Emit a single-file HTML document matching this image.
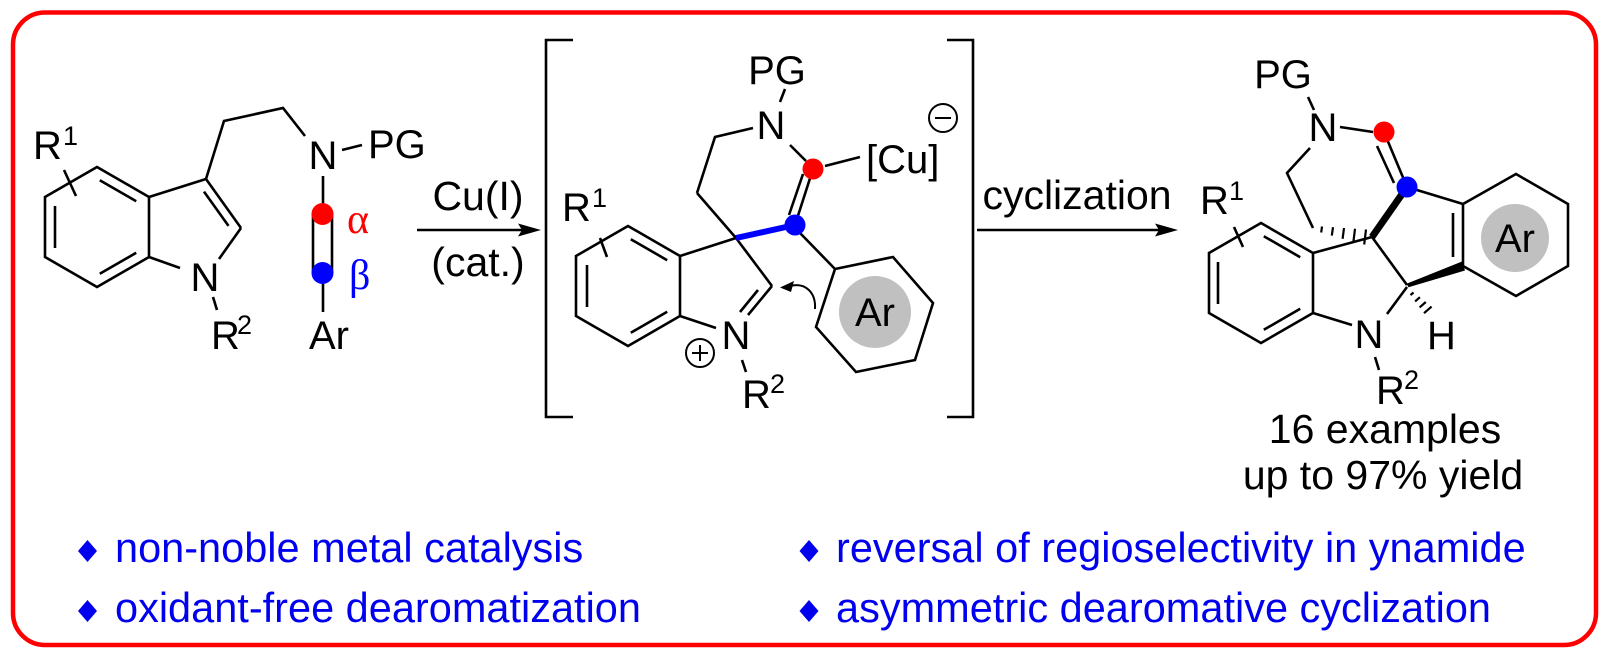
<!DOCTYPE html>
<html>
<head>
<meta charset="utf-8">
<style>
  html,body{margin:0;padding:0;background:#fff;}
  svg{display:block;}
  text{font-family:"Liberation Sans",Arial,sans-serif;}
  .serif{font-family:"Liberation Serif","Times New Roman",serif;}
</style>
</head>
<body>
<svg width="1609" height="658" viewBox="0 0 1609 658" xmlns="http://www.w3.org/2000/svg">
  <rect x="0" y="0" width="1609" height="658" fill="#fff"/>
  <!-- red frame -->
  <rect x="13" y="12.5" width="1583" height="632.5" rx="32" ry="32" fill="none" stroke="#ff0000" stroke-width="4.5"/>

  <g stroke="#000" stroke-width="2.6" fill="none" stroke-linecap="butt" stroke-linejoin="miter">
    <!-- ===== Molecule 1 ===== -->
    <polygon points="97,167 45,197 45,257 97,287 149,257 149,197"/>
    <line x1="99.8" y1="180.2" x2="136.2" y2="201.2"/>
    <line x1="55" y1="206" x2="55" y2="248"/>
    <line x1="99.8" y1="273.8" x2="136.2" y2="252.8"/>
    <line x1="149" y1="197" x2="206" y2="179"/>
    <line x1="206" y1="179" x2="241" y2="228"/>
    <line x1="204" y1="191.6" x2="228.5" y2="225.9"/>
    <line x1="241" y1="228" x2="219" y2="259"/>
    <line x1="149" y1="257" x2="180" y2="268"/>
    <line x1="213" y1="297" x2="217" y2="310"/>
    <line x1="64" y1="170" x2="76" y2="196"/>
    <polyline points="206,179 224,121 283,108 305,136"/>
    <line x1="342" y1="150" x2="362" y2="145"/>
    <line x1="323" y1="176" x2="323" y2="206"/>
    <line x1="313" y1="214" x2="313" y2="273"/>
    <line x1="332" y1="214" x2="332" y2="273"/>
    <line x1="323" y1="283" x2="323" y2="312"/>

    <!-- arrow 1 -->
    <line x1="417" y1="230" x2="524" y2="230"/>

    <!-- brackets -->
    <polyline points="573,40 546,40 546,417 573,417"/>
    <polyline points="947,40 973,40 973,417 947,417"/>

    <!-- ===== Molecule 2 ===== -->
    <polygon points="628,226 576,256 576,316 628,346 680,316 680,256"/>
    <line x1="630.8" y1="239.2" x2="667.2" y2="260.2"/>
    <line x1="587" y1="265" x2="587" y2="307"/>
    <line x1="630.8" y1="332.8" x2="667.2" y2="311.8"/>
    <line x1="680" y1="256" x2="736" y2="238"/>
    <line x1="697" y1="193" x2="736" y2="238"/>
    <line x1="736" y1="238" x2="772" y2="286"/>
    <line x1="772" y1="286" x2="748" y2="315"/>
    <line x1="758" y1="290" x2="740" y2="312"/>
    <line x1="680" y1="316" x2="716" y2="328"/>
    <line x1="742" y1="360" x2="746" y2="372"/>
    <polyline points="753,128 715,137 697,193"/>
    <line x1="780" y1="102" x2="785" y2="89"/>
    <line x1="790" y1="145" x2="806" y2="161"/>
    <line x1="825" y1="166" x2="860" y2="157"/>
    <line x1="813" y1="169" x2="795" y2="225"/>
    <line x1="803" y1="174" x2="789" y2="215"/>
    <line x1="800" y1="233" x2="835" y2="269"/>
    <polygon points="835,269 893,257 933,303 915,360 856,372 816,327"/>
    <line x1="600" y1="238" x2="607" y2="257"/>
    <!-- ⊖ and ⊕ -->
    <circle cx="943" cy="118" r="14" stroke-width="2"/>
    <line x1="935" y1="118" x2="951" y2="118" stroke-width="2"/>
    <circle cx="700" cy="353" r="14" stroke-width="2"/>
    <line x1="692" y1="353" x2="708" y2="353" stroke-width="2"/>
    <line x1="700" y1="345" x2="700" y2="361" stroke-width="2"/>
    <!-- curved arrow -->
    <path d="M815,309 C816,293 806,282 790,286" stroke-width="2"/>

    <!-- arrow 2 -->
    <line x1="977" y1="230" x2="1160" y2="230"/>

    <!-- ===== Molecule 3 ===== -->
    <polygon points="1261,223 1209,253 1209,313 1261,343 1313,313 1313,253"/>
    <line x1="1263.8" y1="236.2" x2="1300.2" y2="257.2"/>
    <line x1="1218" y1="262" x2="1218" y2="304"/>
    <line x1="1263.8" y1="329.8" x2="1300.2" y2="308.8"/>
    <line x1="1234" y1="227" x2="1243" y2="247"/>
    <line x1="1308" y1="97" x2="1314" y2="110"/>
    <line x1="1340" y1="127" x2="1373" y2="132"/>
    <polyline points="1310,148 1287,173 1313,228"/>
    <line x1="1384" y1="132" x2="1407" y2="187"/>
    <line x1="1377" y1="146" x2="1394" y2="183"/>
    <line x1="1407" y1="187" x2="1463" y2="204"/>
    <polygon points="1463,204 1516,174 1568,204 1568,266 1516,296 1463,266"/>
    <line x1="1453" y1="213" x2="1453" y2="257"/>
    <line x1="1372" y1="237" x2="1313" y2="253"/>
    <line x1="1372" y1="237" x2="1407" y2="285"/>
    <line x1="1407" y1="287" x2="1387" y2="314"/>
    <line x1="1313" y1="313" x2="1352" y2="325"/>
    <line x1="1375" y1="357" x2="1379" y2="370"/>
    <!-- hashed wedge CH2 -> spiro -->
    <g stroke-width="2.2">
      <line x1="1322" y1="226.5" x2="1321.2" y2="232.5"/>
      <line x1="1333" y1="227.2" x2="1331.8" y2="235.6"/>
      <line x1="1344" y1="228" x2="1342.6" y2="238.8"/>
      <line x1="1355" y1="228.8" x2="1353.4" y2="241.8"/>
      <line x1="1366" y1="229.5" x2="1364.2" y2="244.5"/>
    </g>
    <!-- hashed wedge CH -> H -->
    <g stroke-width="2.2">
      <line x1="1413.5" y1="292.5" x2="1410.5" y2="295.1"/>
      <line x1="1419.9" y1="297.2" x2="1415.1" y2="301.4"/>
      <line x1="1425.8" y1="302" x2="1419.6" y2="307.4"/>
      <line x1="1431.6" y1="306.6" x2="1424" y2="313.2"/>
    </g>
  </g>

  <!-- thick bonds -->
  <line x1="736" y1="238" x2="795" y2="225" stroke="#0000ff" stroke-width="6"/>
  <line x1="1407" y1="187" x2="1372" y2="237" stroke="#000" stroke-width="7"/>
  <polygon points="1406.5,283.8 1408.5,287.2 1465,270.5 1462,261.5" fill="#000"/>

  <!-- arrowheads -->
  <polygon points="541,230 518,223.5 522,230 518,236.5" fill="#000"/>
  <polygon points="1178,230 1155,223.5 1159,230 1155,236.5" fill="#000"/>
  <polygon points="780,287.5 794,281 791,292" fill="#000"/>

  <!-- gray Ar circles -->
  <circle cx="875" cy="312" r="36" fill="#c0c0c0"/>
  <circle cx="1515" cy="238" r="34" fill="#c0c0c0"/>

  <!-- colored dots -->
  <circle cx="322.5" cy="214" r="11" fill="#ff0000"/>
  <circle cx="322.5" cy="273" r="11" fill="#0000ff"/>
  <circle cx="813" cy="169" r="10.5" fill="#ff0000"/>
  <circle cx="795" cy="225" r="10.5" fill="#0000ff"/>
  <circle cx="1384" cy="132" r="10.5" fill="#ff0000"/>
  <circle cx="1407" cy="187" r="10.5" fill="#0000ff"/>

  <!-- ===== labels ===== -->
  <g fill="#000" font-size="40">
    <!-- mol 1 -->
    <text x="33" y="159">R</text>
    <text x="63" y="145" font-size="27">1</text>
    <text x="323" y="169" text-anchor="middle">N</text>
    <text x="368" y="158">PG</text>
    <text x="205" y="291" text-anchor="middle">N</text>
    <text x="211" y="349">R</text>
    <text x="237" y="334" font-size="27">2</text>
    <text x="309" y="349">Ar</text>
    <!-- mol 2 -->
    <text x="777" y="84" text-anchor="middle">PG</text>
    <text x="771" y="139" text-anchor="middle">N</text>
    <text x="866" y="173">[Cu]</text>
    <text x="562" y="221">R</text>
    <text x="592" y="207" font-size="27">1</text>
    <text x="736" y="349" text-anchor="middle">N</text>
    <text x="742" y="408">R</text>
    <text x="770" y="393" font-size="27">2</text>
    <text x="875" y="326" text-anchor="middle">Ar</text>
    <!-- mol 3 -->
    <text x="1283" y="88" text-anchor="middle">PG</text>
    <text x="1323" y="141" text-anchor="middle">N</text>
    <text x="1200" y="214">R</text>
    <text x="1229" y="200" font-size="27">1</text>
    <text x="1369" y="348" text-anchor="middle">N</text>
    <text x="1427" y="349">H</text>
    <text x="1376" y="404">R</text>
    <text x="1404" y="389" font-size="27">2</text>
    <text x="1515" y="252" text-anchor="middle">Ar</text>
  </g>

  <text class="serif" x="347" y="233" font-size="42" fill="#ff0000">α</text>
  <text class="serif" x="349" y="289" font-size="42" fill="#0000ff">β</text>

  <g fill="#000" font-size="41">
    <text x="478" y="210" text-anchor="middle">Cu(I)</text>
    <text x="478" y="276" text-anchor="middle">(cat.)</text>
    <text x="1077" y="209" text-anchor="middle">cyclization</text>
  </g>

  <g fill="#000" font-size="41">
    <text x="1385" y="443" text-anchor="middle">16 examples</text>
    <text x="1383" y="489" text-anchor="middle">up to 97% yield</text>
  </g>

  <!-- bullets -->
  <g fill="#0000ee">
    <polygon points="87.5,540 97,551 87.5,562 78,551"/>
    <polygon points="87.5,600 97,611 87.5,622 78,611"/>
    <polygon points="809,540 818.5,551 809,562 799.5,551"/>
    <polygon points="809,600 818.5,611 809,622 799.5,611"/>
  </g>
  <g fill="#0000ee" font-size="41.5">
    <text x="115" y="562">non-noble metal catalysis</text>
    <text x="115" y="622">oxidant-free dearomatization</text>
    <text x="836" y="562">reversal of regioselectivity in ynamide</text>
    <text x="836" y="622">asymmetric dearomative cyclization</text>
  </g>
</svg>
</body>
</html>
